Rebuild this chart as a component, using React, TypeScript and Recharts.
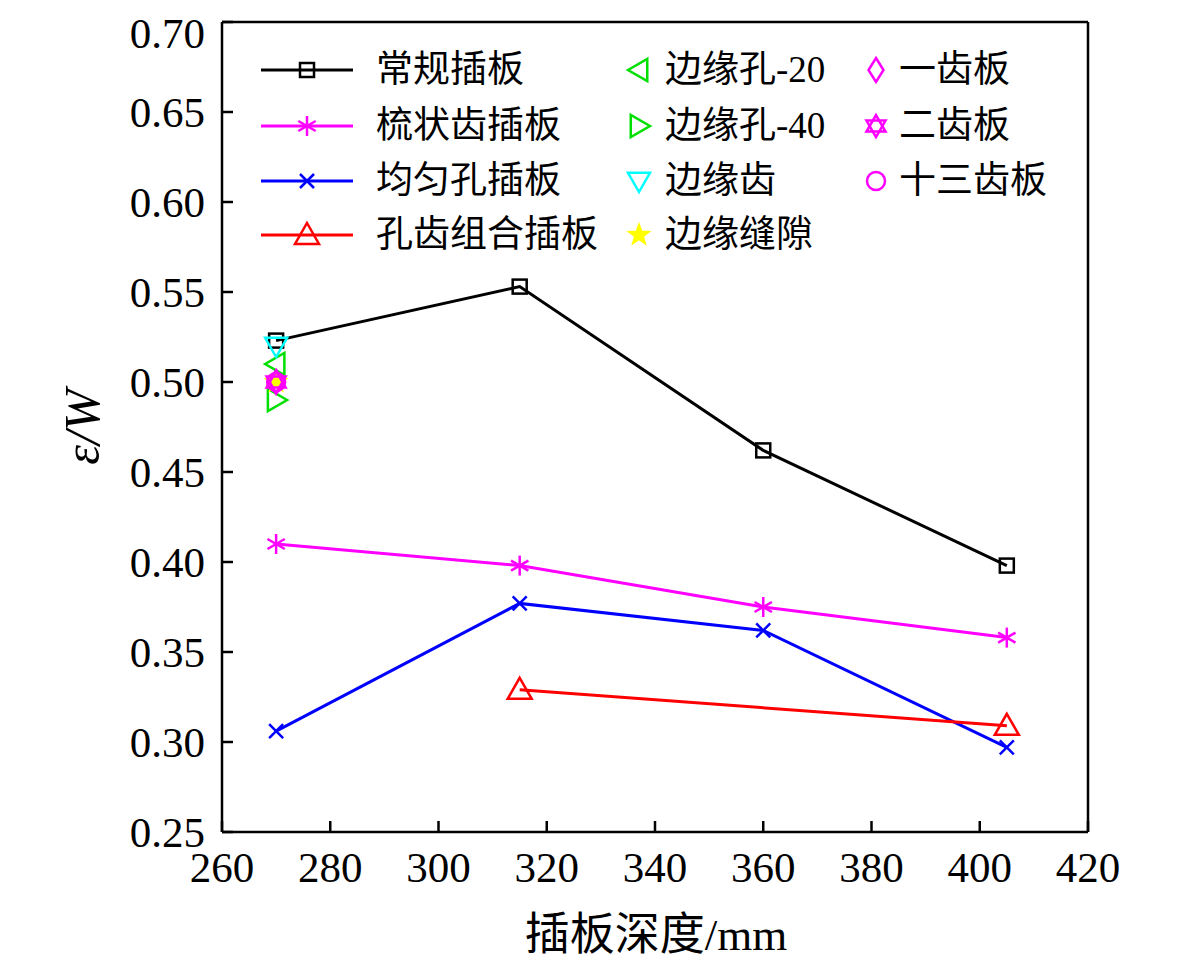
import React from 'react';
import { ComposedChart, Line, XAxis, YAxis, CartesianGrid, Legend } from 'recharts';

// plate depth (mm)
const depths = [270, 315, 360, 405];
const conventional = [0.523, 0.553, 0.462, 0.398];
const combTooth = [0.41, 0.398, 0.375, 0.358];
const uniformHole = [0.306, 0.377, 0.362, 0.297];
const holeToothDepths = [315, 405];
const holeTooth = [0.329, 0.309];

// single tests at 270 mm
const singleDepth = 270;
const edgeHole20 = 0.51;
const edgeHole40 = 0.49;
const edgeTooth = 0.52;
const edgeGap = 0.5;
const oneTooth = 0.5;
const twoTooth = 0.5;
const thirteenTooth = 0.5;

const xTicks = [260, 280, 300, 320, 340, 360, 380, 400, 420];
const yTicks = [0.25, 0.3, 0.35, 0.4, 0.45, 0.5, 0.55, 0.6, 0.65, 0.7];

const toPoints = (xs: number[], ys: number[]) => xs.map((x, i) => ({ x, y: ys[i] }));

type Shape = 'square' | 'asterisk' | 'cross' | 'up' | 'left' | 'right' | 'down' | 'star' | 'diamond' | 'hexagram' | 'circle';

function Marker({ shape, cx, cy, color }: { shape: Shape; cx: number; cy: number; color: string }) {
  const sw = 2.5;
  const common = { fill: 'none', stroke: color, strokeWidth: sw };
  switch (shape) {
    case 'square':
      return <rect x={cx - 7} y={cy - 7} width={14} height={14} {...common} />;
    case 'asterisk': {
      const r = 10;
      const a = r * Math.cos(Math.PI / 6);
      const b = r * Math.sin(Math.PI / 6);
      return (
        <g {...common}>
          <line x1={cx} y1={cy - r} x2={cx} y2={cy + r} />
          <line x1={cx - a} y1={cy - b} x2={cx + a} y2={cy + b} />
          <line x1={cx - a} y1={cy + b} x2={cx + a} y2={cy - b} />
        </g>
      );
    }
    case 'cross': {
      const r = 7;
      return (
        <g {...common}>
          <line x1={cx - r} y1={cy - r} x2={cx + r} y2={cy + r} />
          <line x1={cx - r} y1={cy + r} x2={cx + r} y2={cy - r} />
        </g>
      );
    }
    case 'up': {
      const r = 12;
      return <polygon points={`${cx},${cy - r} ${cx + r},${cy + r * 0.75} ${cx - r},${cy + r * 0.75}`} {...common} />;
    }
    case 'down': {
      const r = 11;
      return <polygon points={`${cx},${cy + r} ${cx + r},${cy - r * 0.75} ${cx - r},${cy - r * 0.75}`} {...common} />;
    }
    case 'left': {
      const r = 11;
      return <polygon points={`${cx - r},${cy} ${cx + r * 0.75},${cy - r} ${cx + r * 0.75},${cy + r}`} {...common} />;
    }
    case 'right': {
      const r = 11;
      return <polygon points={`${cx + r},${cy} ${cx - r * 0.75},${cy - r} ${cx - r * 0.75},${cy + r}`} {...common} />;
    }
    case 'diamond':
      return <polygon points={`${cx},${cy - 12} ${cx + 7.5},${cy} ${cx},${cy + 12} ${cx - 7.5},${cy}`} {...common} />;
    case 'circle':
      return <circle cx={cx} cy={cy} r={9} {...common} />;
    case 'hexagram': {
      const r = 11;
      const p = (off: number) =>
        [0, 1, 2]
          .map((k) => {
            const ang = off + (k * 2 * Math.PI) / 3;
            return `${cx + r * Math.sin(ang)},${cy - r * Math.cos(ang)}`;
          })
          .join(' ');
      return (
        <g {...common}>
          <polygon points={p(0)} />
          <polygon points={p(Math.PI)} />
        </g>
      );
    }
    case 'star': {
      const pts: string[] = [];
      for (let k = 0; k < 10; k++) {
        const rr = k % 2 === 0 ? 11 : 4.5;
        const ang = (k * Math.PI) / 5;
        pts.push(`${cx + rr * Math.sin(ang)},${cy - rr * Math.cos(ang)}`);
      }
      return <polygon points={pts.join(' ')} fill={color} stroke={color} strokeWidth={1.5} />;
    }
  }
  return null;
}

interface SeriesDef {
  name: string;
  color: string;
  shape: Shape;
  data: { x: number; y: number }[];
  line: boolean;
}

const series: SeriesDef[] = [
  { name: '常规插板', color: '#000000', shape: 'square', data: toPoints(depths, conventional), line: true },
  { name: '梳状齿插板', color: '#ff00ff', shape: 'asterisk', data: toPoints(depths, combTooth), line: true },
  { name: '均匀孔插板', color: '#0000ff', shape: 'cross', data: toPoints(depths, uniformHole), line: true },
  { name: '孔齿组合插板', color: '#ff0000', shape: 'up', data: toPoints(holeToothDepths, holeTooth), line: true },
  { name: '边缘孔-20', color: '#00e000', shape: 'left', data: [{ x: singleDepth, y: edgeHole20 }], line: false },
  { name: '边缘孔-40', color: '#00e000', shape: 'right', data: [{ x: singleDepth, y: edgeHole40 }], line: false },
  { name: '边缘齿', color: '#00ffff', shape: 'down', data: [{ x: singleDepth, y: edgeTooth }], line: false },
  { name: '边缘缝隙', color: '#ffff00', shape: 'star', data: [{ x: singleDepth, y: edgeGap }], line: false },
  { name: '一齿板', color: '#ff00ff', shape: 'diamond', data: [{ x: singleDepth, y: oneTooth }], line: false },
  { name: '二齿板', color: '#ff00ff', shape: 'hexagram', data: [{ x: singleDepth, y: twoTooth }], line: false },
  { name: '十三齿板', color: '#ff00ff', shape: 'circle', data: [{ x: singleDepth, y: thirteenTooth }], line: false },
];

const latin = 'Liberation Serif';
const mixed = "'Liberation Serif', 'Noto Sans CJK SC'";

// legend layout (relative to the legend box)
const legendCols = [
  { sym: 16, text: 131 },
  { sym: 375, text: 420 },
  { sym: 612, text: 654 },
];
const legendRows = [35, 91, 146, 200];

function LegendBox() {
  return (
    <div style={{ position: 'relative', width: 820, height: 224, background: '#fff' }}>
      {series.map((s, i) => {
        const col = i < 4 ? 0 : i < 8 ? 1 : 2;
        const row = i < 4 ? i : i < 8 ? i - 4 : i - 8;
        const c = legendCols[col];
        const y = legendRows[row];
        const w = s.line ? 92 : 30;
        return (
          <React.Fragment key={s.name}>
            <svg
              width={w}
              height={40}
              style={{ position: 'absolute', left: s.line ? c.sym : c.sym + 4, top: y - 20, overflow: 'visible' }}
            >
              {s.line && <line x1={0} y1={20} x2={w} y2={20} stroke={s.color} strokeWidth={3} />}
              <Marker shape={s.shape} cx={w / 2} cy={20} color={s.color} />
            </svg>
            <span
              style={{
                position: 'absolute',
                left: c.text,
                top: y - 25,
                lineHeight: '50px',
                fontSize: 37,
                fontFamily: mixed,
                color: '#000',
                whiteSpace: 'nowrap',
              }}
            >
              {s.name}
            </span>
          </React.Fragment>
        );
      })}
    </div>
  );
}

const axisStroke = { stroke: '#000', strokeWidth: 2.5 };
const tickFont = { fill: '#000', fontSize: 43, fontFamily: latin };

export default function App() {
  return (
    <div style={{ position: 'relative', width: 1165, height: 946 }}>
      <ComposedChart width={1165} height={946} margin={{ top: 4, right: 75, left: 114, bottom: 62 }}>
        <CartesianGrid stroke="#dcdcdc" strokeWidth={2} vertical horizontal />
        <XAxis
          xAxisId="b"
          type="number"
          dataKey="x"
          domain={[260, 420]}
          ticks={xTicks}
          allowDataOverflow
          height={60}
          tickSize={-11}
          tickMargin={30}
          axisLine={axisStroke}
          tickLine={axisStroke}
          tick={tickFont}
        />
        <XAxis
          xAxisId="t"
          orientation="top"
          type="number"
          dataKey="x"
          domain={[260, 420]}
          ticks={xTicks}
          allowDataOverflow
          height={10}
          tickSize={-11}
          axisLine={axisStroke}
          tickLine={axisStroke}
          tick={false}
        />
        <YAxis
          yAxisId="l"
          type="number"
          dataKey="y"
          domain={[0.25, 0.7]}
          ticks={yTicks}
          allowDataOverflow
          width={100}
          tickSize={-11}
          tickMargin={28}
          tickFormatter={(v: number) => v.toFixed(2)}
          axisLine={axisStroke}
          tickLine={axisStroke}
          tick={tickFont}
        />
        <YAxis
          yAxisId="r"
          orientation="right"
          type="number"
          dataKey="y"
          domain={[0.25, 0.7]}
          ticks={yTicks}
          allowDataOverflow
          width={10}
          tickSize={-11}
          axisLine={axisStroke}
          tickLine={axisStroke}
          tick={false}
        />
        {series.map((s) => (
          <Line
            key={s.name}
            xAxisId="b"
            yAxisId="l"
            data={s.data}
            dataKey="y"
            name={s.name}
            stroke={s.line ? s.color : 'none'}
            strokeWidth={3}
            isAnimationActive={false}
            legendType="none"
            dot={(p: any) => (
              <Marker key={`${s.name}-${p.index}`} shape={s.shape} cx={p.cx} cy={p.cy} color={s.color} />
            )}
            activeDot={false}
          />
        ))}
        <Legend
          layout="vertical"
          align="center"
          verticalAlign="middle"
          content={() => <LegendBox />}
          wrapperStyle={{ position: 'absolute', left: 237, top: 27, width: 820, height: 224 }}
        />
      </ComposedChart>
      <div
        style={{
          position: 'absolute',
          left: 656 - 8,
          top: 935 - 8,
          transform: 'translate(-50%, -50%)',
          fontSize: 45,
          lineHeight: 1,
          fontFamily: mixed,
          whiteSpace: 'nowrap',
          color: '#000',
        }}
      >
        插板深度/mm
      </div>
      <div
        style={{
          position: 'absolute',
          left: 82 - 8,
          top: 427 - 8,
          transform: 'translate(-50%, -50%) rotate(-90deg)',
          fontSize: 50,
          lineHeight: 1,
          fontFamily: latin,
          fontStyle: 'italic',
          whiteSpace: 'nowrap',
          color: '#000',
        }}
      >
        ε/W
      </div>
    </div>
  );
}
